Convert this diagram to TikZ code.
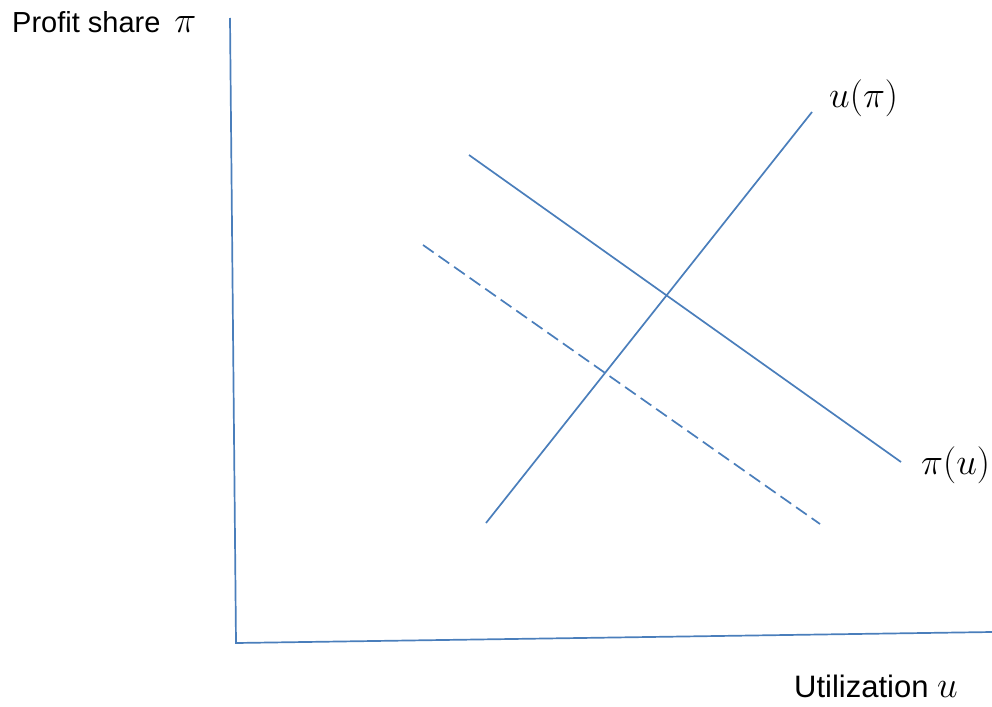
\documentclass[tikz,border=0pt]{standalone}
\usepackage{graphicx}
\usepackage{fontspec}
\setmainfont{Liberation Sans}
\newcommand{\mbig}[1]{\scalebox{1.49}{\fontsize{24.88}{28}\selectfont$#1$}}
\begin{document}
\begin{tikzpicture}[x=1pt,y=-1pt,
  curve/.style={draw=axisblue,line width=1.7pt},
  lbl/.style={inner sep=0pt,font=\fontsize{29}{32}\selectfont}]
\definecolor{axisblue}{HTML}{4A7EBB}
\useasboundingbox (0,0) rectangle (992,706);
\coordinate (ytop) at (230,18);
\coordinate (origin) at (236,643);
\coordinate (xend) at (992,632);
\draw[curve] (ytop) -- (origin) -- (xend);
\coordinate (ua) at (486,523);
\coordinate (ub) at (812,112);
\draw[curve] (ua) -- (ub);
\coordinate (pa) at (469,155);
\coordinate (pb) at (901,462);
\draw[curve] (pa) -- (pb);
\coordinate (da) at (423,245);
\coordinate (db) at (820,524);
\draw[curve,dash pattern=on 13pt off 6pt] (da) -- (db);
\node[lbl,anchor=base west] (ylab) at (12,33) {Profit share\hspace{14pt}\mbig{\pi}};
\node[lbl,anchor=base west,font=\fontsize{31}{34}\selectfont] (xlab) at (794,697) {Utilization \mbig{u}};
\node[lbl,anchor=base west] (ulab) at (829,108) {\mbig{u(\pi)}};
\node[lbl,anchor=base west] (plab) at (921,474) {\mbig{\pi(u)}};
\end{tikzpicture}
\end{document}
